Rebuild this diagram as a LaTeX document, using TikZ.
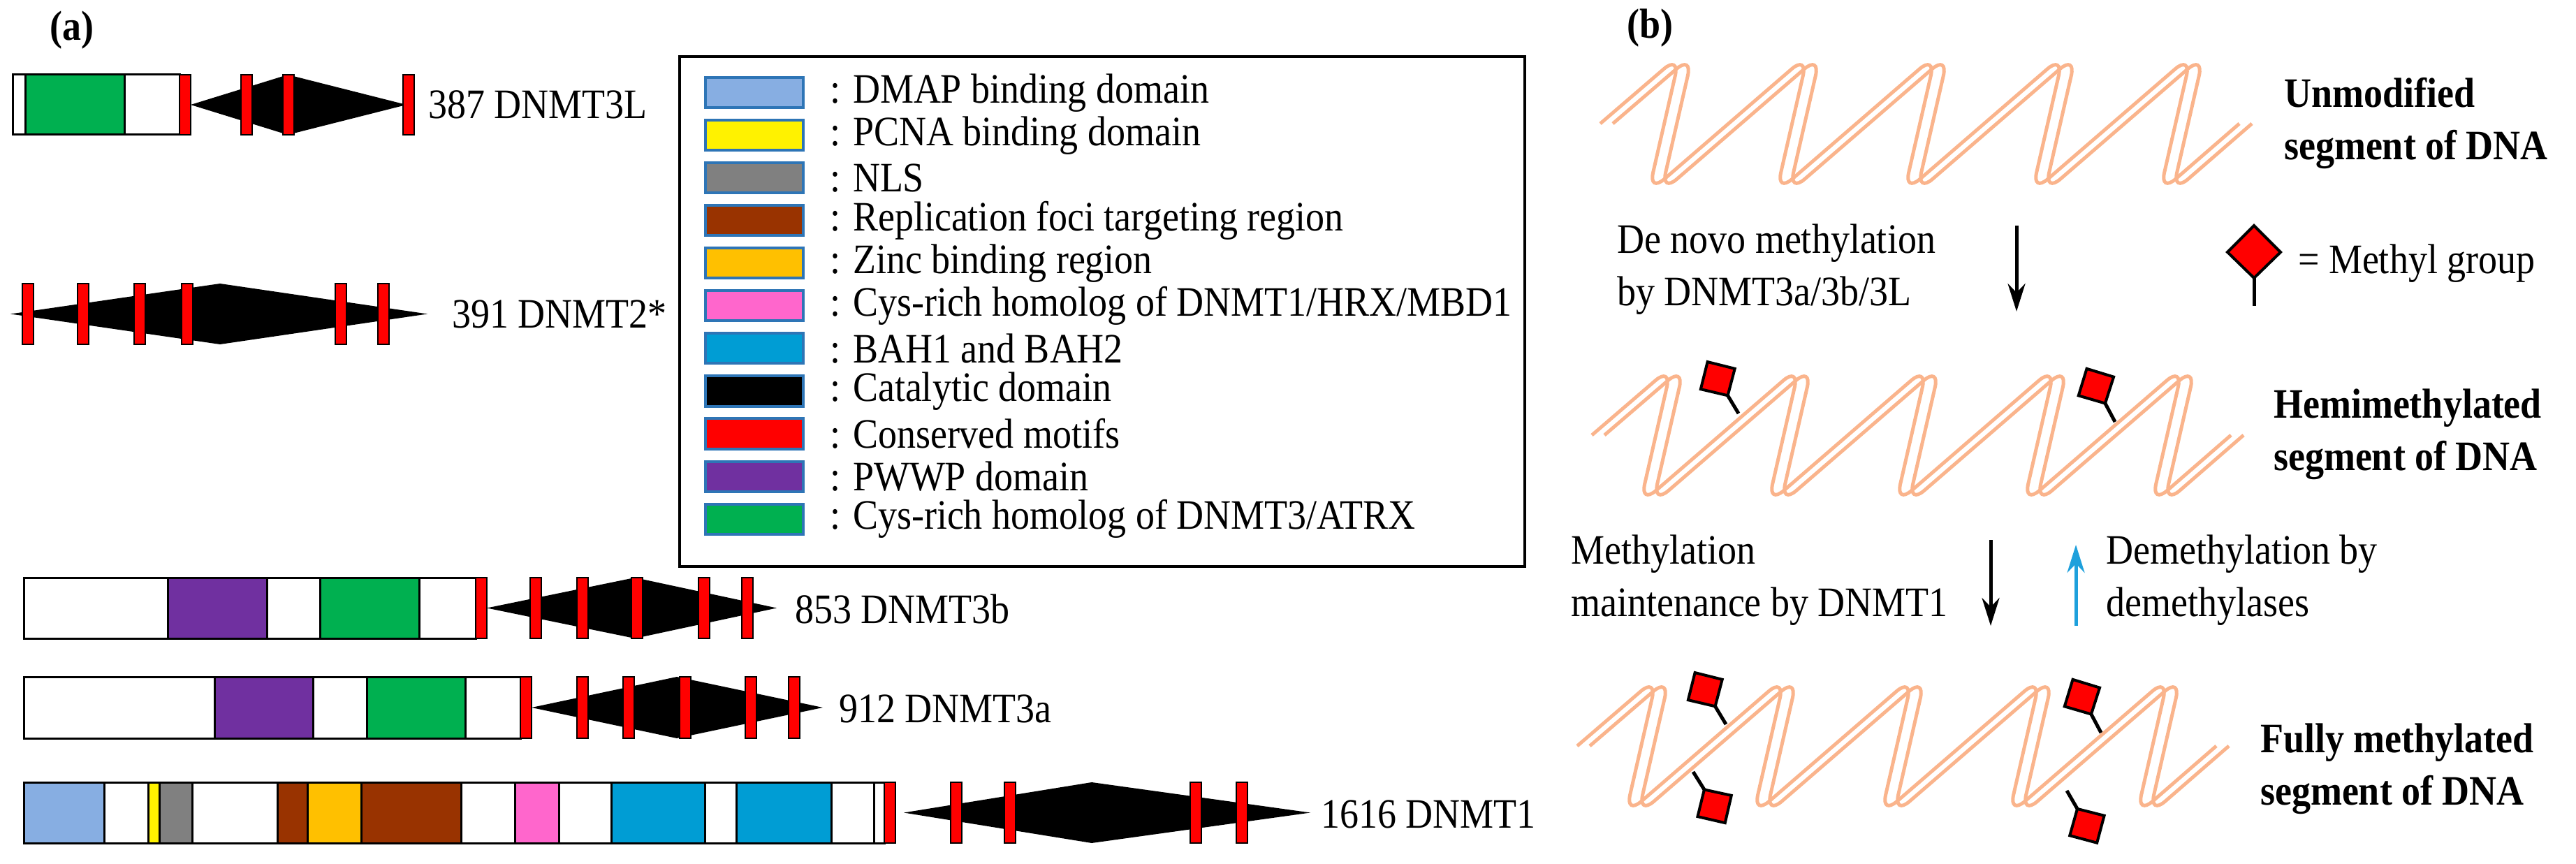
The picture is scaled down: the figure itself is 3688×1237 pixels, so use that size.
\documentclass[tikz,border=0pt]{standalone}
\usepackage{fontspec}
\setmainfont{Liberation Serif}
\newfontfamily\figfont{Liberation Serif}[FakeStretch=0.9]
\usetikzlibrary{arrows.meta,calc}
\definecolor{dmap}{RGB}{135,174,226}
\definecolor{rfts}{RGB}{153,51,0}
\definecolor{zinc}{RGB}{255,192,0}
\definecolor{cysa}{RGB}{255,102,204}
\definecolor{bah}{RGB}{0,157,212}
\definecolor{pwwp}{RGB}{112,48,160}
\definecolor{cysb}{RGB}{0,176,80}
\definecolor{dnaor}{RGB}{250,180,140}
\definecolor{swbd}{RGB}{46,117,182}
\definecolor{demeth}{RGB}{30,160,220}
\tikzset{
  seg/.style={draw=black,line width=0.6pt},
  motif/.style={draw=black,fill=red,line width=0.5pt},
  catal/.style={fill=black},
  strand/.style={draw=dnaor,line width=1pt,rounded corners=6pt},
  mgroup/.style={draw=black,fill=red,line width=0.8pt},
  stem/.style={draw=black,line width=1pt},
  lbl/.style={font=\figfont\fontsize{12}{15}\selectfont,anchor=west,inner sep=0pt},
  blbl/.style={font=\figfont\fontsize{12}{15}\selectfont\bfseries,anchor=west,align=left,inner sep=0pt},
  swatch/.style={draw=swbd,line width=0.8pt,minimum width=28pt,minimum height=8.6pt,inner sep=0pt},
  metharrow/.style={line width=1pt,-{Stealth[length=8pt,width=5pt]}}
}
% double strand, #1 = x of first peak, #2 = top y
\newcommand\dnahelix[2]{%
  \foreach \off in {0,18}{
    \draw[strand] (#1+\off-114,#2+98)
      \foreach \k [evaluate=\k as \px using #1+\off+183*\k] in {0,...,4}{ -- (\px,#2) -- (\px-45,#2+197)}
      -- (#1+\off+801,#2+98);
  }}
% methyl group, stem base at (#2,#3), turned by #4
\newcommand\methyl[4][1]{%
  \begin{scope}[shift={(#2,#3)},rotate=#4,scale=#1]
    \draw[stem] (0,0) -- (0,-40);
    \draw[mgroup] (0,-40) -- (-38,-77) -- (0,-115) -- (38,-77) -- cycle;
  \end{scope}}
% catalytic diamond: left tip, widest x, right tip, top y, bottom y
\newcommand\catdom[5]{\fill[catal] (#1,{(#4+#5)/2}) -- (#2,#4) -- (#3,{(#4+#5)/2}) -- (#2,#5) -- cycle;}
\begin{document}
\begin{tikzpicture}[x=0.2pt,y=-0.2pt]
\useasboundingbox (0,0) rectangle (3688,1237);

\node[font=\figfont\fontsize{12}{15}\selectfont\bfseries] (pa) at (103,43) {(a)};
\node[font=\figfont\fontsize{12}{15}\selectfont\bfseries] (pb) at (2362,40) {(b)};

%DNMT3L
\foreach \xa/\xb/\col in {18/36/white,36/178/cysb,178/257/white}
  \draw[seg,fill=\col] (\xa,107) rectangle (\xb,193);
\catdom{273}{412}{582}{107}{193}
\foreach \xm in {257,345,405,577}
  \draw[motif] (\xm,107) rectangle (\xm+16,193);
\node[lbl] (d3l) at (612,150) {387 DNMT3L};

%DNMT2
\catdom{15}{315}{612}{406}{493}
\foreach \xm in {32,111,192,260,480,541}
  \draw[motif] (\xm,406) rectangle (\xm+16,493);
\node[lbl] (d2) at (646,450) {391 DNMT2*};

%DNMT3b
\foreach \xa/\xb/\col in {34/240/white,240/382/pwwp,382/458/white,458/600/cysb,600/681/white}
  \draw[seg,fill=\col] (\xa,827) rectangle (\xb,914);
\catdom{697}{909}{1112}{827}{914}
\foreach \xm in {681,759,826,904,1000,1062}
  \draw[motif] (\xm,827) rectangle (\xm+16,914);
\node[lbl] (d3b) at (1137,872) {853 DNMT3b};

%DNMT3a
\foreach \xa/\xb/\col in {34/307/white,307/448/pwwp,448/525/white,525/666/cysb,666/745/white}
  \draw[seg,fill=\col] (\xa,969) rectangle (\xb,1057);
\catdom{761}{969}{1178}{969}{1057}
\foreach \xm in {745,826,892,973,1067,1129}
  \draw[motif] (\xm,969) rectangle (\xm+16,1057);
\node[lbl] (d3a) at (1200,1015) {912 DNMT3a};

%DNMT1
\foreach \xa/\xb/\col in {34/149/dmap,149/212/white,212/228/yellow,228/275/gray,275/397/white,397/440/rfts,440/517/zinc,517/660/rfts,660/737/white,737/800/cysa,800/875/white,875/1009/bah,1009/1054/white,1054/1190/bah,1190/1251/white,1251/1266/white}
  \draw[seg,fill=\col] (\xa,1120) rectangle (\xb,1207);
\catdom{1294}{1563}{1876}{1120}{1207}
\foreach \xm in {1266,1361,1438,1704,1770}
  \draw[motif] (\xm,1120) rectangle (\xm+16,1207);
\node[lbl] (d1) at (1890,1166) {1616 DNMT1};

%legend
\draw[line width=0.8pt] (973,81) rectangle (2183,811);
\foreach \col/\txt [count=\i from 0] in {dmap/{DMAP binding domain},yellow/{PCNA binding domain},gray/{NLS},rfts/{Replication foci targeting region},zinc/{Zinc binding region},cysa/{Cys-rich homolog of DNMT1/HRX/MBD1},bah/{BAH1 and BAH2},black/{Catalytic domain},red/{Conserved motifs},pwwp/{PWWP domain},cysb/{Cys-rich homolog of DNMT3/ATRX}}{
  \node[swatch,fill=\col] (sw\i) at (1080,133+61*\i) {};
  \node[lbl] (lg\i) at (1187,133+61*\i) {: \txt};
}

%panel b
\dnahelix{2405}{79}
\node[blbl] (s1) at (3269,177) {Unmodified\\segment of DNA};

\coordinate (a1s) at (2887,323);
\coordinate (a1e) at (2887,446);
\draw[metharrow] (a1s) -- (a1e);
\node[lbl,align=left] (t1) at (2314,386) {De novo methylation\\by DNMT3a/3b/3L};
\methyl{3227}{438}{0}
\node[lbl] (mk) at (3289,377) {= Methyl group};

\dnahelix{2393}{525}
\methyl[0.75]{2489}{592}{31}
\methyl[0.75]{3028}{604}{28}
\node[blbl] (s2) at (3254,622) {Hemimethylated\\segment of DNA};

\coordinate (a2s) at (2850,773);
\coordinate (a2e) at (2850,896);
\draw[metharrow] (a2s) -- (a2e);
\coordinate (a3s) at (2972,896);
\coordinate (a3e) at (2972,780);
\draw[metharrow,demeth] (a3s) -- (a3e);
\node[lbl,align=left] (t2) at (2248,831) {Methylation\\maintenance by DNMT1};
\node[lbl,align=left] (t3) at (3014,831) {Demethylation by\\demethylases};

\dnahelix{2372}{970}
\methyl[0.75]{2471}{1037}{31}
\methyl[0.75]{3008}{1049}{28}
\methyl[0.75]{2424}{1105}{212}
\methyl[0.75]{2959}{1132}{210}
\node[blbl] (s3) at (3235,1101) {Fully methylated\\segment of DNA};
\end{tikzpicture}
\end{document}
